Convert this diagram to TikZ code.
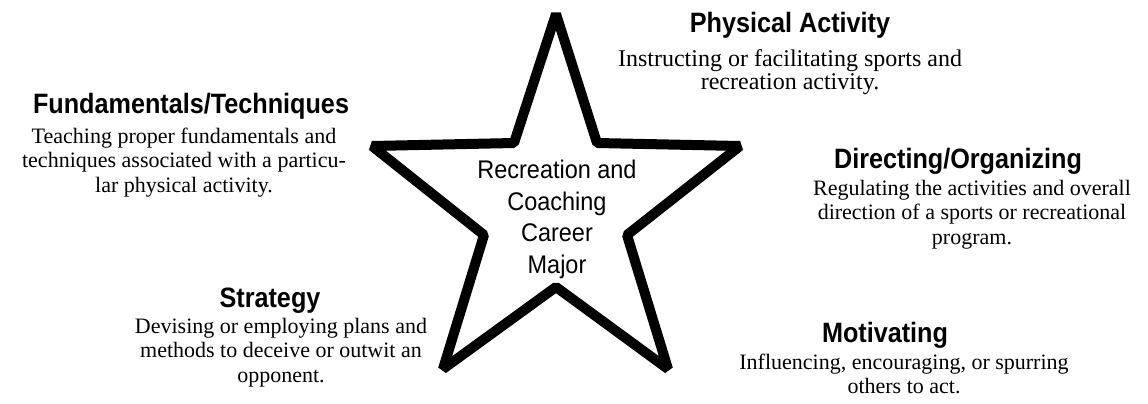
\documentclass[tikz,border=0pt]{standalone}
\usepackage{fontspec}
\setmainfont{Liberation Serif}
\newfontfamily\headfont[FakeStretch=0.9]{Liberation Sans}
\newfontfamily\starfont[FakeStretch=0.92]{Liberation Sans}
\begin{document}
\begin{tikzpicture}[x=1pt,y=-1pt,
  head/.style={anchor=base,inner sep=0pt,font=\headfont\bfseries\fontsize{28}{30}\selectfont},
  body/.style={anchor=north,inner sep=0pt,align=center,font=\fontsize{22}{24.5}\selectfont},
  starline/.style={line width=10pt,line join=bevel}]
\useasboundingbox (0,0) rectangle (1148,404);
% star
\coordinate (sT) at (556,14);
\coordinate (sUR) at (597,143);
\coordinate (sR) at (740,146);
\coordinate (sRI) at (627,235);
\coordinate (sBR) at (668,369);
\coordinate (sB) at (556,287);
\coordinate (sBL) at (443,369);
\coordinate (sLI) at (484,235);
\coordinate (sL) at (372,146);
\coordinate (sUL) at (514,143);
\draw[starline] (sT) -- (sUR) -- (sR) -- (sRI) -- (sBR) -- (sB) -- (sBL) -- (sLI) -- (sL) -- (sUL) -- cycle;
\node[anchor=north,inner sep=0pt,align=center,font=\starfont\fontsize{25.5}{31.7}\selectfont] (center) at (557,156)
  {\strut Recreation and\\Coaching\\Career\\Major};
% headings
\node[head] (hPA) at (790,33) {Physical Activity};
\node[head] (hFT) at (191,113) {Fundamentals/Techniques};
\node[head] (hDO) at (958,168) {Directing/Organizing};
\node[head] (hST) at (270,307) {Strategy};
\node[head] (hMO) at (885,342) {Motivating};
% bodies (top = first baseline - strut height)
\node[body,font=\fontsize{24}{22.5}\selectfont] (bPA) at (790,49.25) {\strut Instructing or facilitating sports and\\recreation activity.};
\node[body] (bFT) at (184,125.85) {\strut Teaching proper fundamentals and\\techniques associated with a particu-\\lar physical activity.};
\node[body] (bDO) at (972,177.85) {\strut Regulating the activities and overall\\direction of a sports or recreational\\program.};
\node[body] (bST) at (281,315.85) {\strut Devising or employing plans and\\methods to deceive or outwit an\\opponent.};
\node[body] (bMO) at (904,351.85) {\strut Influencing, encouraging, or spurring\\others to act.};
\end{tikzpicture}
\end{document}
